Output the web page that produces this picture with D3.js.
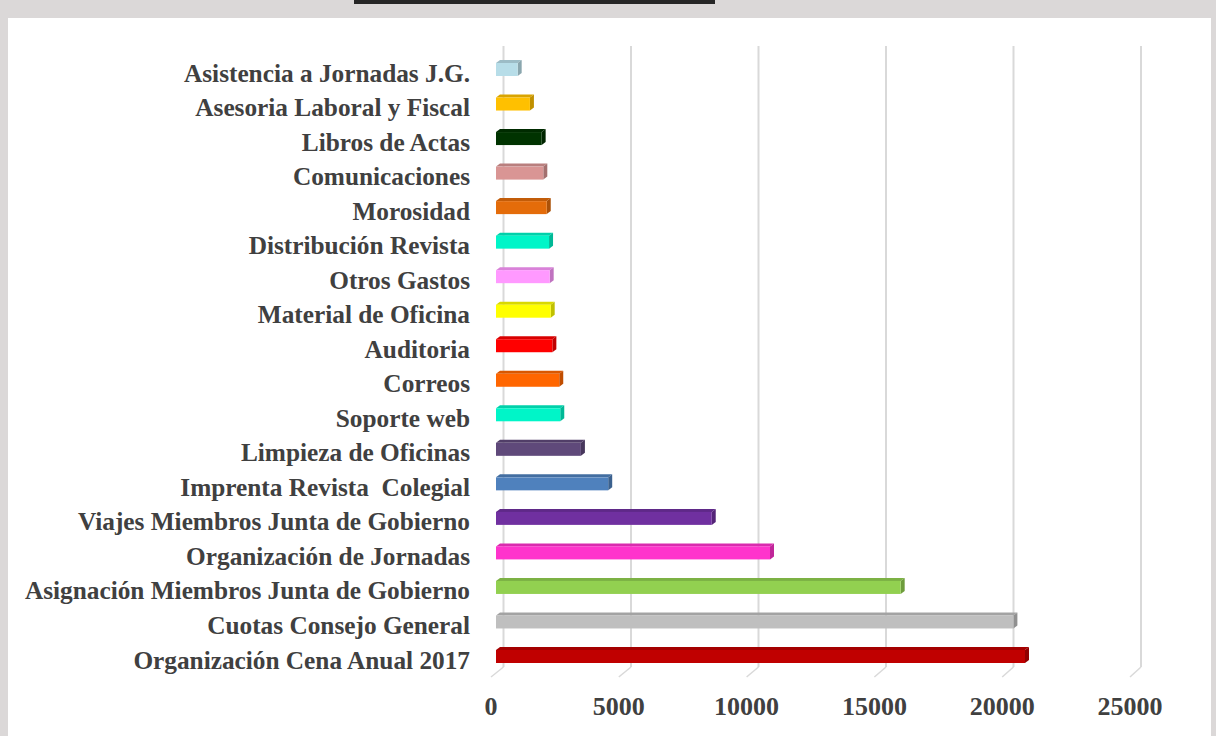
<!DOCTYPE html>
<html>
  <head>
    <meta http-equiv="Content-Type" content="text/html;charset=utf-8" />
    <title>Gastos 2017</title>
    <script type="text/javascript" src="https://d3js.org/d3.v7.min.js"></script>
    <style>
      body { margin: 0; background: #dbd8d8; }
      svg { display: block; }
    </style>
  </head>
  <body>
    <div id="chart"></div>

    <script type="text/javascript">
      // categories top to bottom, as in the picture
      var categories = [
        "Asistencia a Jornadas J.G.",
        "Asesoria Laboral y Fiscal",
        "Libros de Actas",
        "Comunicaciones",
        "Morosidad",
        "Distribución Revista",
        "Otros Gastos",
        "Material de Oficina",
        "Auditoria",
        "Correos",
        "Soporte web",
        "Limpieza de Oficinas",
        "Imprenta Revista  Colegial",
        "Viajes Miembros Junta de Gobierno",
        "Organización de Jornadas",
        "Asignación Miembros Junta de Gobierno",
        "Cuotas Consejo General",
        "Organización Cena Anual 2017"
      ];
      var values = [
        850, 1330, 1790, 1855, 1990, 2080, 2105, 2145, 2210,
        2480, 2520, 3330, 4400, 8460, 10745, 15870, 20290, 20745
      ];
      var colors = [
        "#b7dde8", "#ffc000", "#003300", "#d99594", "#e46c0a", "#00f5c8",
        "#ff99ff", "#ffff00", "#ff0000", "#ff6600", "#00f5c8", "#5f497a",
        "#4f81bd", "#7030a0", "#ff33cc", "#92d050", "#bfbfbf", "#c00000"
      ];
      var ticks = [0, 5000, 10000, 15000, 20000, 25000];

      var W = 1216, H = 736;
      var depthX = 4, depthY = 3, barH = 13;

      var svg = d3.select("#chart").append("svg")
        .attr("width", W)
        .attr("height", H);

      // frame
      svg.append("rect").attr("x", 0).attr("y", 0).attr("width", W).attr("height", H).attr("fill", "#dbd8d8");
      svg.append("rect").attr("x", 8).attr("y", 18).attr("width", 1203).attr("height", H - 18).attr("fill", "#ffffff");
      svg.append("rect").attr("x", 354).attr("y", 0).attr("width", 361).attr("height", 4).attr("fill", "#262626");

      // bar plane, back wall and front floor edge
      var x = d3.scaleLinear().domain([0, 25000]).range([496, 1133.5]);
      var xBack = d3.scaleLinear().domain([0, 25000]).range([503.5, 1141]);
      var xFront = d3.scaleLinear().domain([0, 25000]).range([491, 1130]);

      var y = d3.scalePoint().domain(categories).range([63, 650]);

      var grid = svg.append("g").attr("class", "grid");
      grid.selectAll("line.v")
        .data(ticks)
        .enter()
        .append("line")
        .attr("class", "v")
        .attr("x1", d => xBack(d))
        .attr("x2", d => xBack(d))
        .attr("y1", 46)
        .attr("y2", 667)
        .attr("stroke", "#d9d9d9")
        .attr("stroke-width", 2);
      grid.selectAll("line.f")
        .data(ticks)
        .enter()
        .append("line")
        .attr("class", "f")
        .attr("x1", d => xBack(d))
        .attr("x2", d => xFront(d))
        .attr("y1", 667)
        .attr("y2", 677)
        .attr("stroke", "#d9d9d9")
        .attr("stroke-width", 1.5);

      var bars = svg.append("g").attr("class", "bars")
        .selectAll("g")
        .data(categories)
        .enter()
        .append("g");

      // top face
      bars.append("path")
        .attr("d", (d, i) => {
          var x0 = x(0), x1 = x(values[i]), yt = y(d);
          return "M" + x0 + "," + yt + "L" + (x0 + depthX) + "," + (yt - depthY) +
            "L" + (x1 + depthX) + "," + (yt - depthY) + "L" + x1 + "," + yt + "Z";
        })
        .attr("fill", (d, i) => d3.color(colors[i]).darker(0.45));

      // side face
      bars.append("path")
        .attr("d", (d, i) => {
          var x1 = x(values[i]), yt = y(d);
          return "M" + x1 + "," + yt + "L" + (x1 + depthX) + "," + (yt - depthY) +
            "L" + (x1 + depthX) + "," + (yt - depthY + barH) + "L" + x1 + "," + (yt + barH) + "Z";
        })
        .attr("fill", (d, i) => d3.color(colors[i]).darker(0.8));

      // front face
      bars.append("rect")
        .attr("x", x(0))
        .attr("y", d => y(d))
        .attr("width", (d, i) => x(values[i]) - x(0))
        .attr("height", barH)
        .attr("fill", (d, i) => colors[i]);

      // category labels
      svg.append("g").attr("class", "labels")
        .selectAll("text")
        .data(categories)
        .enter()
        .append("text")
        .attr("x", 470)
        .attr("y", d => y(d) + 18.5)
        .attr("text-anchor", "end")
        .attr("font-family", "Liberation Serif")
        .attr("font-weight", "bold")
        .attr("font-size", "25.3px")
        .attr("fill", "#404040")
        .style("white-space", "pre")
        .text(d => d);

      // value axis labels
      svg.append("g").attr("class", "x-axis")
        .selectAll("text")
        .data(ticks)
        .enter()
        .append("text")
        .attr("x", d => xFront(d))
        .attr("y", 715)
        .attr("text-anchor", "middle")
        .attr("font-family", "Liberation Serif")
        .attr("font-weight", "bold")
        .attr("font-size", "26px")
        .attr("fill", "#404040")
        .text(d => d);
    </script>
  </body>
</html>
